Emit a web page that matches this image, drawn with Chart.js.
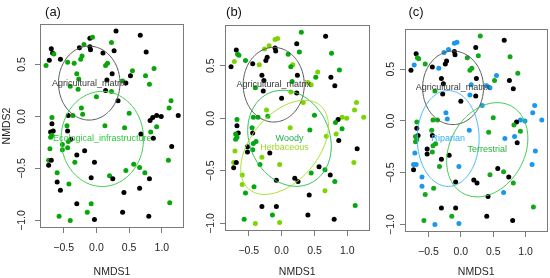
<!DOCTYPE html>
<html><head><meta charset="utf-8">
<script src="https://cdn.jsdelivr.net/npm/chart.js@4.4.1/dist/chart.umd.min.js"></script>
<style>
html,body{margin:0;padding:0;background:#fff;}
#wrap{position:relative;width:550px;height:278px;overflow:hidden;background:#fff;}
canvas{position:absolute;top:0;}
</style></head><body>
<div id="wrap">
<canvas id="ca" width="190" height="278" style="left:0px"></canvas>
<canvas id="cb" width="182" height="278" style="left:190px"></canvas>
<canvas id="cc" width="178" height="278" style="left:372px"></canvas>
</div>
<script>
// ---- site scores (same ordination in all three panels) ----
const nmds1 = [0.30,-0.10,-0.06,0.23,0.67,-0.26,-0.19,-0.10,-0.09,-0.69,
  -0.67,-0.65,-0.72,-0.77,-0.55,-0.44,-0.34,-0.22,-0.24,0.10,
  0.27,0.76,0.17,0.14,0.55,0.88,0.52,-0.30,0.24,0.75,
  -0.27,0.16,0.40,0.45,0.81,-0.40,-0.28,0.14,0.23,0.00,
  0.33,1.14,1.11,-0.23,-0.21,0.50,0.92,0.99,0.86,0.82,
  1.25,-0.68,-0.43,-0.36,-0.68,-0.45,0.13,0.43,0.92,0.83,
  -0.66,-0.70,-0.68,-0.70,-0.44,0.68,0.87,-0.39,-0.43,-0.52,
  -0.52,-0.44,-0.71,1.15,-0.18,-0.30,-0.73,-0.69,-0.73,-0.33,
  -0.03,1.10,0.57,0.66,-0.60,0.45,0.74,0.20,0.25,-0.08,
  0.81,-0.60,-0.42,0.66,-0.55,0.42,-0.30,-0.08,1.12,-0.14,
  0.40,-0.57,0.80,-0.40,-0.03];
const nmds2 = [0.82,0.75,0.76,0.71,0.78,0.66,0.69,0.67,0.64,0.65,
  0.61,0.60,0.54,0.49,0.55,0.52,0.51,0.58,0.55,0.61,
  0.63,0.62,0.51,0.49,0.44,0.46,0.39,0.41,0.41,0.39,
  0.36,0.35,0.34,0.32,0.31,0.29,0.26,0.25,0.24,0.19,
  0.15,0.15,0.08,0.08,0.02,0.03,0.01,0.00,-0.01,-0.04,
  0.01,-0.01,0.01,0.01,-0.07,-0.09,-0.09,-0.11,-0.10,-0.15,
  -0.14,-0.15,-0.18,-0.20,-0.14,-0.17,-0.21,-0.22,-0.24,-0.27,
  -0.32,-0.30,-0.31,-0.29,-0.33,-0.37,-0.42,-0.42,-0.47,-0.44,
  -0.44,-0.42,-0.46,-0.49,-0.54,-0.52,-0.54,-0.57,-0.60,-0.59,
  -0.60,-0.63,-0.65,-0.69,-0.71,-0.73,-0.84,-0.84,-0.83,-0.92,
  -0.92,-0.96,-0.96,-1.00,-0.99];
// group of each site in each panel: M = Agricultural_matrix, E = Ecological_infrastructure,
// W = Woody, H = Herbaceous, R = Riparian, T = Terrestrial
const groupA = "MMEEMMEMMMMEMEMEEEEMMMEEEEMEMEEMEMEEEMEEMEEEEEMMMMMEMEMEEEEEMMEEMMMMEEEEEMMMEMMEMEEEEEEEMMMMEMMMMEEEMEMEM".split("");
const groupB = "WHHMMHHMMMWWHMWMHMMWWWHWHWWMMMMWHHMWMHMMHHHHWWHHMWHWWWMWHWWHMWWWMHMWWMMWHMMHHMMWHHMWHWMMMMWHWHWMMMWWMWMHHM".split("");
const groupC = "TRRMMRRMMMTTRMTMRMMTTTTTRTTMMMMRRRMTMRMMRRRRRTRRMTRTTTMTRTTRMTTTMRMTTMMTRRMMRRMTRRMTRTMMMMTRTRTMMMTTMTMRRM".split("");
// axis ticks
const xTicks = [-0.5, 0.0, 0.5, 1.0];
const yTicks = [-1.0, -0.5, 0.0, 0.5];
const xRange = [-0.862, 1.338];
const yRange = [-1.072, 0.888];
// ordination ellipses: [group, centre x, centre y, conjugate semi-axis u (x,y), conjugate semi-axis v (x,y)]
const ellipsesA = [
  ["Agricultural_matrix", -0.11, 0.32, 0.47, 0, 0, 0.355],
  ["Ecological_infrastructure", 0.09, -0.216, 0.63, 0, 0, 0.457]
];
const ellipsesB = [
  ["Agricultural_matrix", -0.12, 0.32, 0.465, 0, 0, 0.355],
  ["Woody", 0.12, -0.19, 0.324, -0.426, 0.547, 0.165],
  ["Herbaceous", 0.045, -0.276, 0.547, 0.396, -0.383, 0.21]
];
const ellipsesC = [
  ["Agricultural_matrix", -0.12, 0.32, 0.47, 0, 0, 0.355],
  ["Riparian", -0.195, -0.169, 0.477, 0, 0, 0.463],
  ["Terrestrial", 0.408, -0.278, 0.378, 0.419, -0.50, 0.177]
];
const panelTitles = ["(a)", "(b)", "(c)"];

// ---- styles ----
const pointColors = {M:"#000000", E:"#0aa50a", W:"#03a80f", H:"#7bd600", R:"#1a98ee", T:"#12a818"};
const ellipseColors = {Agricultural_matrix:"#555555", Ecological_infrastructure:"#3ccc4c", Woody:"#2cbf5a",
  Herbaceous:"#a8e02c", Riparian:"#45b9f5", Terrestrial:"#3cc84a"};
const labelColors = {Agricultural_matrix:"#3a3a3a", Ecological_infrastructure:"#2fc83c", Woody:"#1fae48",
  Herbaceous:"#9ad822", Riparian:"#2fb0f0", Terrestrial:"#2bb43a"};
const FONT = "'Liberation Sans', Arial, Helvetica, sans-serif";
Chart.defaults.font.family = FONT;

const overlayPlugin = {
  id: "overlay",
  afterDatasetsDraw(chart, args, opts) {
    const {ctx, chartArea: a, scales: {x, y}} = chart;
    ctx.save();
    ctx.beginPath(); ctx.rect(a.left, a.top, a.right - a.left, a.bottom - a.top); ctx.clip();
    opts.ellipses.forEach(e => {
      ctx.beginPath();
      const n = 160;
      for (let i = 0; i <= n; i++) {
        const t = i / n * 2 * Math.PI;
        const dx = e[1] + e[3] * Math.cos(t) + e[5] * Math.sin(t);
        const dy = e[2] + e[4] * Math.cos(t) + e[6] * Math.sin(t);
        const px = x.getPixelForValue(dx), py = y.getPixelForValue(dy);
        if (i === 0) ctx.moveTo(px, py); else ctx.lineTo(px, py);
      }
      ctx.closePath();
      ctx.strokeStyle = ellipseColors[e[0]];
      ctx.lineWidth = 1;
      ctx.stroke();
    });
    ctx.font = "9px " + FONT;
    ctx.textAlign = "center";
    ctx.textBaseline = "middle";
    opts.ellipses.forEach(e => {
      ctx.fillStyle = labelColors[e[0]];
      ctx.fillText(e[0], x.getPixelForValue(e[1]), y.getPixelForValue(e[2]));
    });
    ctx.restore();
  },
  afterDraw(chart, args, opts) {
    const {ctx, chartArea: a} = chart;
    ctx.save();
    ctx.strokeStyle = "#7a7a7a";
    ctx.lineWidth = 1;
    ctx.strokeRect(Math.round(a.left) + 0.5, Math.round(a.top) + 0.5,
      Math.round(a.right - a.left) - 1, Math.round(a.bottom - a.top) - 1);
    ctx.fillStyle = "#111";
    ctx.font = "13px " + FONT;
    ctx.textAlign = "center";
    ctx.textBaseline = "middle";
    ctx.fillText(opts.title, opts.titleX, 12);
    ctx.restore();
  }
};

function fmt(v) { return (v < 0 ? "\u2212" : "") + Math.abs(v).toFixed(1); }

function makePanel(id, groups, ellipses, title, titleX, geom) {
  const pts = nmds1.map((v, i) => ({x: v, y: nmds2[i]}));
  const cols = groups.map(g => pointColors[g]);
  new Chart(document.getElementById(id), {
    type: "scatter",
    data: {datasets: [{data: pts, pointBackgroundColor: cols, pointBorderWidth: 0,
      pointRadius: 2.5, pointHoverRadius: 2.5, showLine: false}]},
    options: {
      responsive: false, animation: false, devicePixelRatio: 1, events: [],
      layout: {padding: {top: geom.top, right: geom.right, left: 0, bottom: 0}},
      plugins: {legend: {display: false}, tooltip: {enabled: false},
        overlay: {ellipses: ellipses, title: title, titleX: titleX}},
      scales: {
        x: {
          type: "linear", min: xRange[0], max: xRange[1],
          afterBuildTicks: s => { s.ticks = xTicks.map(v => ({value: v})); },
          afterFit: s => { s.height = geom.xh; },
          ticks: {callback: fmt, autoSkip: false, maxRotation: 0, padding: 9,
            color: "#262626", font: {size: 10.5}},
          grid: {drawOnChartArea: false, drawTicks: true, tickLength: 5, tickColor: "#7a7a7a"},
          border: {display: false},
          title: {display: true, text: "NMDS1", color: "#262626", font: {size: 10.5}, padding: 0}
        },
        y: {
          type: "linear", min: yRange[0], max: yRange[1],
          afterBuildTicks: s => { s.ticks = yTicks.map(v => ({value: v})); },
          afterFit: s => { s.width = geom.yw; },
          ticks: {callback: fmt, autoSkip: false, minRotation: 90, maxRotation: 90,
            crossAlign: "center", padding: geom.ypad, color: "#262626", font: {size: 10.5}},
          grid: {drawOnChartArea: false, drawTicks: true, tickLength: 5, tickColor: "#7a7a7a"},
          border: {display: false},
          title: {display: geom.ytitle, text: "NMDS2", color: "#262626", font: {size: 10.5}, padding: {top: 1, bottom: 0}}
        }
      }
    },
    plugins: [overlayPlugin]
  });
}

makePanel("ca", groupA, ellipsesA, panelTitles[0], 53, {top: 24, right: 6, xh: 50, yw: 40, ypad: 3, ytitle: true});
makePanel("cb", groupB, ellipsesB, panelTitles[1], 44, {top: 25, right: 2, xh: 47, yw: 35, ypad: -1, ytitle: false});
makePanel("cc", groupC, ellipsesC, panelTitles[2], 44, {top: 29, right: 2, xh: 46, yw: 33, ypad: -1, ytitle: false});
</script>
</body></html>
